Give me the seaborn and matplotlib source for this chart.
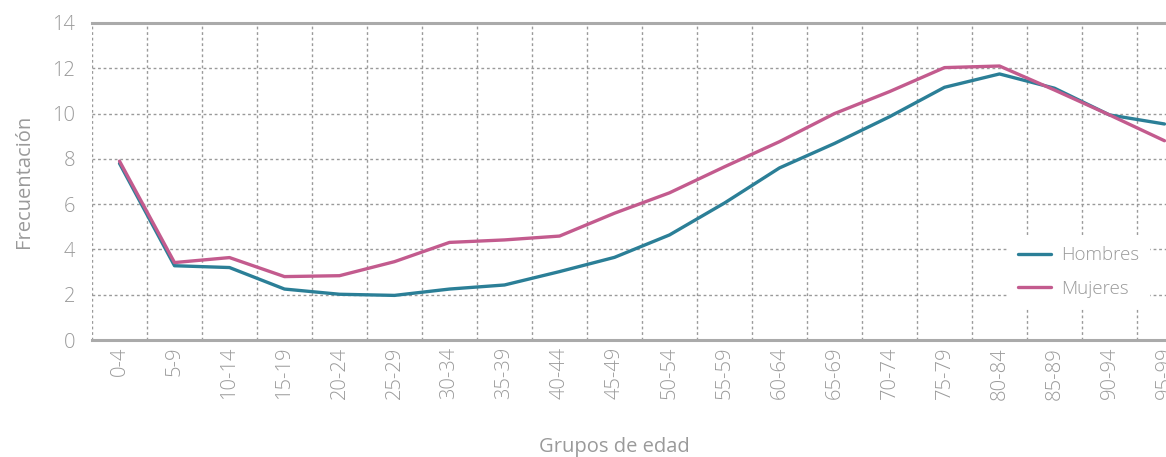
import pandas as pd
import numpy as np
import matplotlib.pyplot as plt
import seaborn as sns

# Data
grupos = ["0-4", "5-9", "10-14", "15-19", "20-24", "25-29", "30-34", "35-39",
          "40-44", "45-49", "50-54", "55-59", "60-64", "65-69", "70-74",
          "75-79", "80-84", "85-89", "90-94", "95-99"]
hombres = [7.8, 3.28, 3.2, 2.25, 2.02, 1.97, 2.25, 2.43, 3.02, 3.65, 4.64,
           6.05, 7.6, 8.68, 9.86, 11.16, 11.75, 11.12, 9.94, 9.54]
mujeres = [7.9, 3.42, 3.64, 2.8, 2.84, 3.46, 4.31, 4.42, 4.59, 5.6, 6.5,
           7.65, 8.76, 10.0, 10.97, 12.03, 12.1, 11.04, 9.94, 8.8]

df = pd.DataFrame({
    "grupo": grupos * 2,
    "valor": hombres + mujeres,
    "sexo": ["Hombres"] * len(grupos) + ["Mujeres"] * len(grupos),
})

sns.set_style("white")
plt.rcParams["font.family"] = ["Open Sans", "DejaVu Sans"]
plt.rcParams["font.weight"] = "light"
gray = "#9a9a9a"
fs = 14.5

fig = plt.figure(figsize=(11.66, 4.57), dpi=100)
# axes run past the right edge, like in the reference (last group is cut)
ax = fig.add_axes([92 / 1166, 117 / 457, 1100 / 1166, 317 / 457])

sns.lineplot(data=df, x="grupo", y="valor", hue="sexo", ax=ax,
             palette={"Hombres": "#2b7f97", "Mujeres": "#c35b8e"},
             linewidth=2.4, sort=False)

ax.set_xlim(-0.5, len(grupos) - 0.5)
ax.set_ylim(0, 14)
ax.set_yticks(np.arange(0, 15, 2))
ax.set_xticks(range(len(grupos)))
ax.set_xticklabels(grupos, rotation=90)
ax.set_xticks(np.arange(-0.5, len(grupos), 1), minor=True)

ax.grid(False)
ax.grid(axis="y", which="major", color=gray, linestyle=(0, (2, 2)), linewidth=1)
ax.grid(axis="x", which="minor", color=gray, linestyle=(0, (2, 2)), linewidth=1)
ax.set_axisbelow(True)

for s in ["left", "right"]:
    ax.spines[s].set_visible(False)
for s in ["top", "bottom"]:
    ax.spines[s].set_color("#aaaaaa")
    ax.spines[s].set_linewidth(2.2)

ax.tick_params(axis="both", which="both", length=0, labelcolor=gray, labelsize=fs)
ax.tick_params(axis="x", pad=5)
ax.tick_params(axis="y", pad=12)

ax.set_xlabel("Grupos de edad", color=gray, fontsize=fs)
ax.set_ylabel("Frecuentación", color=gray, fontsize=fs)
ax.xaxis.set_label_coords((614 - 92) / 1100, -0.305)
ax.yaxis.set_label_coords(-(92 - 34) / 1100, 0.5)

leg = ax.legend(loc="center left", bbox_to_anchor=(1009 / 1166, 1 - 272 / 457),
                bbox_transform=fig.transFigure, frameon=True, fontsize=13.5,
                handlelength=1.75, labelspacing=0.8, borderpad=0.5,
                handletextpad=0.55, borderaxespad=0)
leg.get_frame().set_facecolor("white")
leg.get_frame().set_edgecolor("white")
leg.get_frame().set_alpha(1)
leg.get_frame().set_boxstyle("square", pad=0)
for t in leg.get_texts():
    t.set_color(gray)
for h in leg.get_lines():
    h.set_linewidth(2.4)

fig.savefig("out.png", dpi=100)
